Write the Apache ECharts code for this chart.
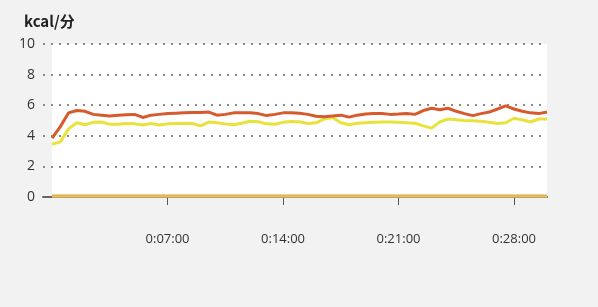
<!DOCTYPE html>
<html>
<head>
<meta charset="utf-8">
<script src="https://cdn.jsdelivr.net/npm/echarts@6/dist/echarts.min.js"></script>
<style>
html,body{margin:0;padding:0;background:#f2f2f2;}
#c{width:598px;height:307px;}
</style>
</head>
<body>
<div id="c"></div>
<script>
const unitTitle = 'kcal/分';
const minutes = [0,0.5,1,1.5,2,2.5,3,3.5,4,4.5,5,5.5,6,6.5,7,7.5,8,8.5,9,9.5,10,10.5,11,11.5,12,12.5,13,13.5,14,14.5,15,15.5,16,16.5,17,17.5,18,18.5,19,19.5,20,20.5,21,21.5,22,22.5,23,23.5,24,24.5,25,25.5,26,26.5,27,27.5,28,28.5,29,29.5,30];
const tickMinutes = [7,14,21,28];
const tickLabels = ['0:07:00','0:14:00','0:21:00','0:28:00'];
const yTicks = [0,2,4,6,8,10];
const seriesOrange = [3.85,4.6,5.5,5.65,5.6,5.4,5.35,5.3,5.35,5.38,5.4,5.2,5.35,5.4,5.45,5.48,5.5,5.52,5.52,5.55,5.35,5.4,5.5,5.5,5.5,5.45,5.32,5.4,5.5,5.5,5.48,5.4,5.28,5.25,5.3,5.35,5.22,5.35,5.42,5.45,5.45,5.4,5.42,5.45,5.4,5.65,5.8,5.7,5.8,5.6,5.45,5.32,5.45,5.55,5.75,5.95,5.75,5.6,5.5,5.45,5.55];
const seriesYellow = [3.45,3.6,4.45,4.85,4.72,4.88,4.9,4.75,4.75,4.8,4.78,4.7,4.8,4.7,4.78,4.8,4.8,4.8,4.65,4.9,4.85,4.78,4.72,4.82,4.95,4.92,4.78,4.75,4.88,4.94,4.92,4.8,4.85,5.1,5.2,4.85,4.72,4.82,4.85,4.88,4.9,4.9,4.88,4.85,4.82,4.65,4.5,4.9,5.1,5.05,5.0,4.98,4.95,4.88,4.8,4.85,5.15,5.05,4.9,5.1,5.1];
const baseMinutes = [0,30];
const baseOrange = [0.06,0.06];
const baseYellow = [0.03,0.03];

const pairs = (xs, ys) => xs.map((x, i) => [x, ys[i]]);
const labelMap = {};
tickMinutes.forEach((m, i) => { labelMap[m] = tickLabels[i]; });

const chart = echarts.init(document.getElementById('c'), null, {renderer: 'canvas'});
chart.setOption({
  backgroundColor: '#f2f2f2',
  animation: false,
  title: {
    text: unitTitle, left: 19, top: 9,
    textStyle: {fontFamily: 'Noto Sans CJK SC', fontSize: 15, fontWeight: 'bold', color: '#222'}
  },
  grid: [
    {left: 52, right: 51, top: 44, bottom: 110, show: true, backgroundColor: '#ffffff', borderWidth: 0},
    {left: 43, right: 51, top: 44, bottom: 110}
  ],
  xAxis: [
    {gridIndex: 0, type: 'value', min: 0, max: 30, show: false},
    {
      gridIndex: 1, type: 'value', min: -0.55, max: 30, z: 3,
      axisLine: {show: true, lineStyle: {color: '#666', width: 2}},
      axisTick: {show: true, customValues: tickMinutes, length: 8, lineStyle: {color: '#555', width: 1}},
      axisLabel: {
        customValues: tickMinutes, margin: 36, fontSize: 13, color: '#333',
        fontFamily: 'Open Sans',
        formatter: v => labelMap[v] || ''
      },
      splitLine: {show: false}
    }
  ],
  yAxis: [
    {gridIndex: 0, type: 'value', min: 0, max: 10, show: false},
    {
      gridIndex: 1, type: 'value', min: 0, max: 10, interval: 2, z: 3,
      axisLine: {show: false}, axisTick: {show: false},
      axisLabel: {margin: 8, fontSize: 14, color: '#333', fontFamily: 'Open Sans',
        formatter: v => (yTicks.indexOf(v) >= 0 ? String(v) : '')},
      splitLine: {show: true, lineStyle: {color: '#8a8a8a', type: [2, 6], width: 2}}
    }
  ],
  series: [
    {type: 'line', xAxisIndex: 1, yAxisIndex: 1, data: pairs(baseMinutes, baseOrange), showSymbol: false,
      lineStyle: {color: '#dca245', width: 3}, z: 4},
    {type: 'line', xAxisIndex: 1, yAxisIndex: 1, data: pairs(baseMinutes, baseYellow), showSymbol: false,
      lineStyle: {color: '#e6c25a', width: 2}, z: 4},
    {type: 'line', xAxisIndex: 1, yAxisIndex: 1, data: pairs(minutes, seriesYellow), showSymbol: false,
      lineStyle: {color: '#e9e23c', width: 3}, z: 5},
    {type: 'line', xAxisIndex: 1, yAxisIndex: 1, data: pairs(minutes, seriesOrange), showSymbol: false,
      lineStyle: {color: '#d65a2b', width: 3}, z: 6}
  ]
});
</script>
</body>
</html>
